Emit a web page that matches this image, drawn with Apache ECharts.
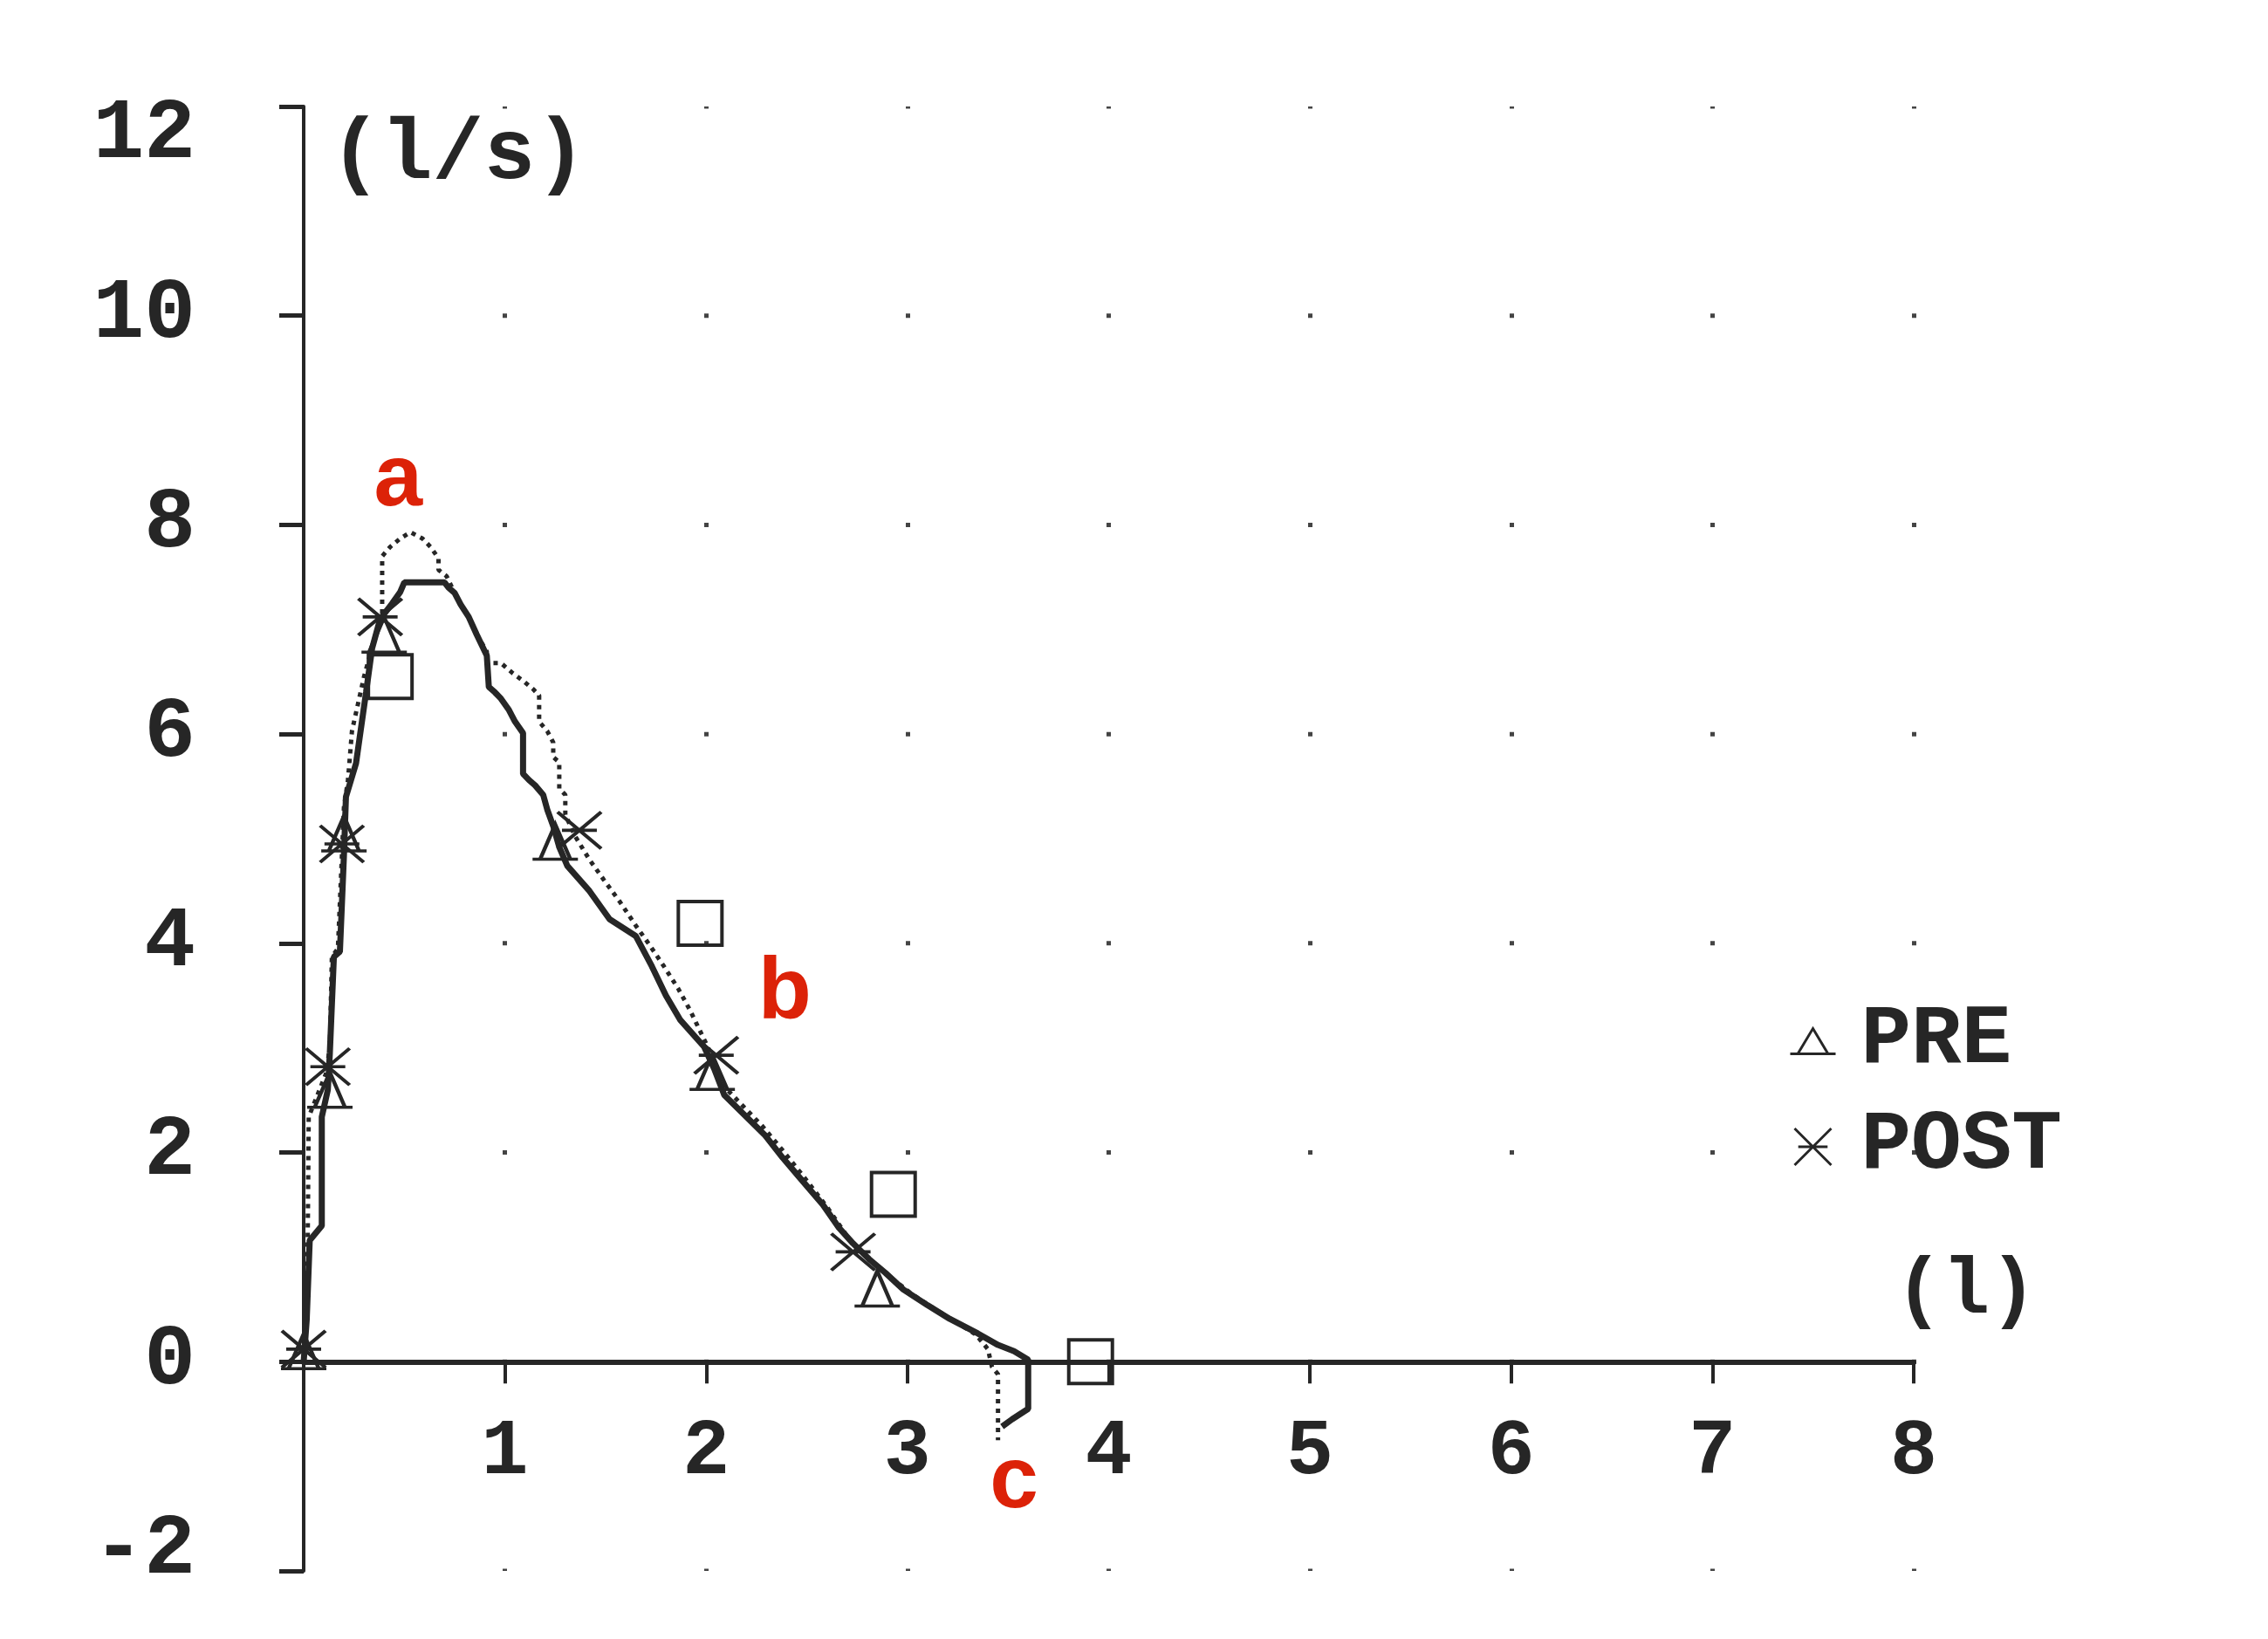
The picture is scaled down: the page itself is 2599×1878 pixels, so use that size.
<!DOCTYPE html>
<html><head><meta charset="utf-8">
<script src="https://cdn.jsdelivr.net/npm/echarts@6/dist/echarts.min.js"></script>
<style>html,body{margin:0;padding:0;background:#fff}#c{width:2599px;height:1878px}</style>
</head><body><div id="c"></div>
<script>
// ---- data ----
const xTicks = [0, 1, 2, 3, 4, 5, 6, 7, 8];
const yTicks = [-2, 0, 2, 4, 6, 8, 10, 12];
const xUnit = '(l)';
const yUnit = '(l/s)';
const legendNames = ['PRE', 'POST'];

const preCurve = [[0,0],[0.015,0.4],[0.03,1.16],[0.09,1.3],[0.09,2.34],[0.12,2.6],[0.13,2.95],[0.15,3.87],[0.18,3.92],[0.2,4.84],[0.21,5.4],[0.26,5.72],[0.31,6.4],[0.34,6.82],[0.38,7.1],[0.44,7.25],[0.48,7.36],[0.5,7.45],[0.7,7.45],[0.72,7.4],[0.75,7.35],[0.78,7.24],[0.82,7.12],[0.86,6.95],[0.91,6.75],[0.92,6.45],[0.95,6.4],[0.98,6.34],[1.02,6.23],[1.05,6.12],[1.09,6.01],[1.09,5.62],[1.12,5.56],[1.15,5.51],[1.19,5.42],[1.21,5.28],[1.24,5.12],[1.27,4.92],[1.31,4.74],[1.42,4.5],[1.52,4.23],[1.65,4.07],[1.73,3.78],[1.8,3.5],[1.87,3.27],[1.99,3.01],[2.04,2.8],[2.09,2.55],[2.19,2.36],[2.29,2.17],[2.38,1.95],[2.46,1.77],[2.58,1.5],[2.66,1.28],[2.73,1.13],[2.81,0.98],[2.89,0.85],[2.98,0.69],[3.1,0.54],[3.21,0.41],[3.35,0.27],[3.45,0.16],[3.53,0.1],[3.6,0.02],[3.6,-0.45],[3.52,-0.55],[3.47,-0.62]];

const postCurve = [[0,0],[0.015,0.4],[0.02,1.16],[0.025,2.34],[0.11,2.75],[0.13,3.0],[0.14,3.87],[0.17,3.95],[0.19,4.84],[0.2,5.3],[0.22,5.56],[0.24,6.03],[0.3,6.55],[0.35,6.9],[0.39,7.15],[0.39,7.7],[0.43,7.79],[0.48,7.87],[0.53,7.93],[0.59,7.87],[0.63,7.79],[0.67,7.68],[0.67,7.57],[0.71,7.51],[0.75,7.35],[0.78,7.24],[0.82,7.12],[0.86,6.95],[0.91,6.79],[0.91,6.68],[0.98,6.68],[1.04,6.58],[1.09,6.51],[1.14,6.43],[1.17,6.37],[1.17,6.12],[1.21,6.03],[1.24,5.92],[1.24,5.78],[1.27,5.73],[1.27,5.48],[1.3,5.42],[1.3,5.23],[1.35,5.02],[1.42,4.8],[1.49,4.61],[1.57,4.4],[1.65,4.17],[1.72,3.98],[1.79,3.78],[1.86,3.57],[1.92,3.36],[2.01,3.0],[2.08,2.65],[2.17,2.47],[2.28,2.25],[2.38,2.02],[2.48,1.78],[2.6,1.48],[2.7,1.2],[2.76,1.06],[2.84,0.93],[2.92,0.8],[3.02,0.65],[3.13,0.51],[3.24,0.38],[3.34,0.26],[3.4,0.12],[3.42,-0.05],[3.45,-0.12],[3.45,-0.75]];

const preMarkers = [[0,0.1],[0.13,2.6],[0.2,5.05],[0.4,6.95],[1.25,4.97],[2.03,2.77],[2.85,0.7]];
const postMarkers = [[0,0.12],[0.12,2.82],[0.19,4.95],[0.38,7.12],[1.37,5.08],[2.05,2.93],[2.73,1.05]];
const predicted = [[0.43,6.55],[1.97,4.19],[2.93,1.6],[3.91,0]];
const annotations = [[0.47,8.42,'a'],[2.39,3.51,'b'],[3.53,-1.16,'c']];

// ---- chart ----
const INK = '#262626';
const MONO = '"Liberation Mono", "DejaVu Sans Mono", monospace';
const triPath = 'path://M6,0L12,10L0,10Z M-3,10L15,10';
const crossPath = 'path://M0,0L10,10M10,0L0,10M1,5L9,5';

const gridTop = 122, gridBottomPx = 1800;
const yMin = yTicks[0], yMax = yTicks[yTicks.length - 1];
const unitPx = (gridBottomPx - gridTop) / (yMax - yMin);
const dotPeriod = unitPx * (yTicks[1] - yTicks[0]);
const zeroOffset = -unitPx * (0 - yMin); // move x axis up from grid bottom to y = 0

const chart = echarts.init(document.getElementById('c'), null, {renderer: 'canvas'});
chart.setOption({
  backgroundColor: '#ffffff',
  animation: false,
  grid: {left: 348, right: 406, top: gridTop, bottom: 1878 - gridBottomPx, containLabel: false, outerBoundsMode: 'none'},
  xAxis: {
    type: 'value', min: xTicks[0], max: xTicks[xTicks.length-1], interval: 1,
    position: 'bottom', offset: zeroOffset,
    name: xUnit, nameLocation: 'end', nameGap: 60,
    nameTextStyle: {fontFamily: MONO, fontWeight: 'bold', fontSize: 90, color: INK,
      align: 'center', verticalAlign: 'bottom', padding: [0, 0, 34, 0]},
    axisLine: {show: true, onZero: false, lineStyle: {color: INK, width: 6}},
    axisTick: {show: true, length: 25, lineStyle: {color: INK, width: 4}},
    axisLabel: {show: true, margin: 60, fontFamily: MONO, fontWeight: 'bold', fontSize: 90, color: INK,
      formatter: v => (v === 0 ? '' : String(v))},
    splitLine: {show: true, showMinLine: false, showMaxLine: true,
      lineStyle: {color: '#444', width: 5, type: [5, dotPeriod - 5], dashOffset: 2.5}}
  },
  yAxis: {
    type: 'value', min: yMin, max: yMax, interval: 2,
    name: yUnit, nameLocation: 'end', nameGap: -8,
    nameTextStyle: {fontFamily: MONO, fontWeight: 'bold', fontSize: 98, color: INK,
      align: 'left', verticalAlign: 'top', padding: [0, 0, 0, 30]},
    axisLine: {show: true, lineStyle: {color: INK, width: 4}},
    axisTick: {show: true, length: 28, lineStyle: {color: INK, width: 5}},
    axisLabel: {show: true, margin: 124, fontFamily: MONO, fontWeight: 'bold', fontSize: 98, color: INK,
      formatter: v => (v === yMax ? '{top|' + v + '}' : v === yMin ? '{bot|' + v + '}' : String(v)),
      rich: {
        top: {fontFamily: MONO, fontWeight: 'bold', fontSize: 98, color: INK, padding: [66, 0, 0, 0]},
        bot: {fontFamily: MONO, fontWeight: 'bold', fontSize: 98, color: INK, padding: [0, 0, 46, 0]}
      }},
    splitLine: {show: false}
  },
  legend: {
    show: true, orient: 'vertical', left: 2045, top: 1140, itemGap: 25,
    itemWidth: 52, itemHeight: 42,
    data: [{name: legendNames[0], icon: triPath}, {name: legendNames[1], icon: crossPath}],
    itemStyle: {color: 'rgba(0,0,0,0)', borderColor: INK, borderWidth: 3, opacity: 1},
    textStyle: {fontFamily: MONO, fontWeight: 'bold', fontSize: 96, color: INK, padding: [0, 0, 0, 24]}
  },
  series: [
    {name: 'PRE curve', type: 'line', data: preCurve, showSymbol: false, z: 3,
      lineStyle: {color: INK, width: 7}},
    {name: 'POST curve', type: 'line', data: postCurve, showSymbol: false, z: 3,
      lineStyle: {color: INK, width: 5, type: [5, 6]}},
    {name: legendNames[0], type: 'scatter', data: preMarkers, symbol: triPath, symbolSize: [52, 40], z: 4,
      itemStyle: {color: 'rgba(0,0,0,0)', borderColor: INK, borderWidth: 4, opacity: 1}},
    {name: legendNames[1], type: 'scatter', data: postMarkers, symbol: crossPath, symbolSize: [50, 42], z: 4,
      itemStyle: {color: 'rgba(0,0,0,0)', borderColor: INK, borderWidth: 4, opacity: 1}},
    {name: 'Predicted', type: 'scatter', data: predicted, symbol: 'rect', symbolSize: 50, z: 4,
      itemStyle: {color: 'rgba(0,0,0,0)', borderColor: INK, borderWidth: 4, opacity: 1}},
    {name: 'Notes', type: 'scatter', data: annotations, symbolSize: 1, z: 5,
      itemStyle: {color: 'rgba(0,0,0,0)', opacity: 1},
      label: {show: true, position: 'inside', formatter: p => p.value[2],
        fontFamily: '"Liberation Sans", Arial, sans-serif', fontWeight: 'bold', fontSize: 100, color: '#dc2208'}}
  ]
});
</script></body></html>
